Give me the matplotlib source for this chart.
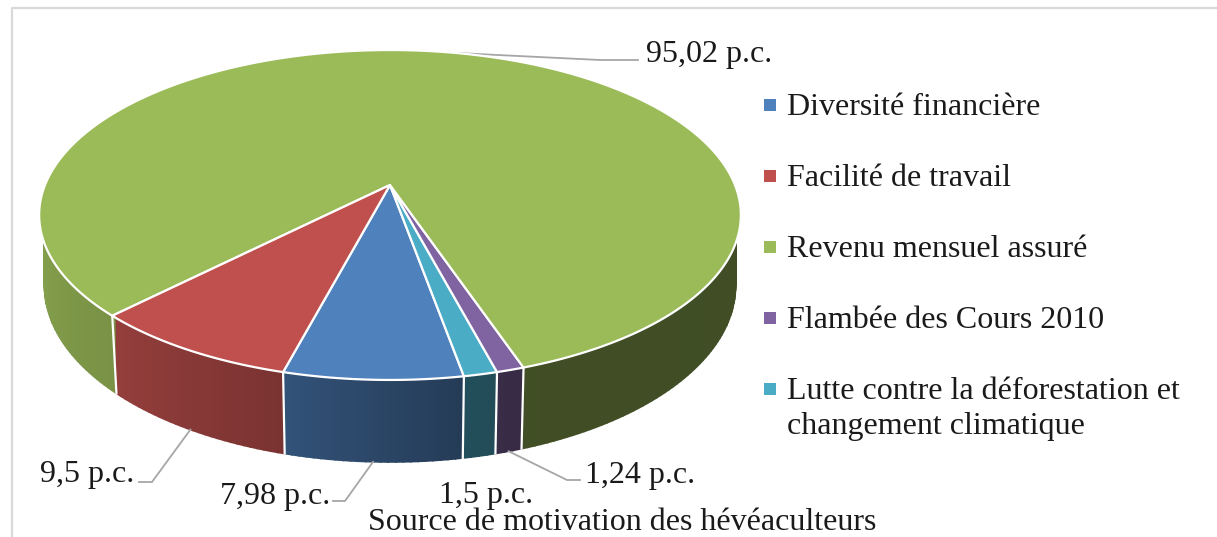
import numpy as np
import matplotlib
matplotlib.use('Agg')
import matplotlib.pyplot as plt

plt.rcParams['font.family'] = ['Liberation Serif', 'DejaVu Serif']

# legend order
categories = ['Diversité financière', 'Facilité de travail', 'Revenu mensuel assuré',
              'Flambée des Cours 2010', 'Lutte contre la déforestation et\nchangement climatique']
values = [7.98, 9.5, 95.02, 1.24, 1.5]
value_labels = ['7,98 p.c.', '9,5 p.c.', '95,02 p.c.', '1,24 p.c.', '1,5 p.c.']
colors = ['#4f81bd', '#bf504d', '#9bbb59', '#8064a2', '#4bacc6']

# slices go round in this order, starting at the blue one
draw_order = [0, 4, 3, 2, 1]
start_angle = -14.8  # deg from the front of the pie, positive to the right

# perspective of the pie, in pixels
cx, cy = 390, 185
k = 0.1818
rx, ry = 345, 159.5

# shade of the side wall against angle from the front
shade_angle = [-180, -90, -45, -15, 10, 20, 90, 180]
shade_value = [0.42, 0.88, 0.78, 0.64, 0.46, 0.42, 0.41, 0.42]


def top(t):
    u, v = np.sin(t), -np.cos(t)
    w = 1 + k * v
    return rx * u / w, ry * v / w


def to_px(X, Y, bottom=False):
    if bottom:
        X = 0.985 * X
        Y = 1.07 * Y - 68.4
    return cx + X, cy - Y


def rim(t, bottom=False):
    return to_px(*top(t), bottom=bottom)


fig = plt.figure(figsize=(12.17, 5.37), dpi=100)
ax = fig.add_axes([0, 0, 1, 1])
ax.set_xlim(0, 1217)
ax.set_ylim(537, 0)
ax.axis('off')

# frame of the chart, only top and left show
ax.plot([12, 12, 1217], [537, 8, 8], color='#d9d9d9', lw=1.6, zorder=1)

# slice limits
total = sum(values)
spans = {}
a = start_angle
for i in draw_order:
    d = values[i] / total * 360
    spans[i] = (a, a + d)
    a += d

# side wall, drawn in thin strips
strips = []
for i in draw_order:
    a0, a1 = spans[i]
    n = max(3, int((a1 - a0) / 1.0))
    edges = np.linspace(a0, a1, n + 1)
    for e0, e1 in zip(edges[:-1], edges[1:]):
        strips.append((i, e0, e1))
strips.sort(key=lambda s: np.cos(np.radians((s[1] + s[2]) / 2)))
for i, e0, e1 in strips:
    mid = ((e0 + e1) / 2 + 180) % 360 - 180
    if np.cos(np.radians(mid)) < -0.1:
        continue
    shade = np.interp(mid, shade_angle, shade_value)
    col = np.array(matplotlib.colors.to_rgb(colors[i])) * shade
    t = np.radians([e0, e1])
    x0, y0 = rim(t)
    # pull the top of the strip under the disc so no dark hairline shows
    x0 = cx + (x0 - cx) * 0.985
    y0 = cy + (y0 - cy) * 0.985
    x1, y1 = rim(t, bottom=True)
    ax.fill([x0[0], x0[1], x1[1], x1[0]], [y0[0], y0[1], y1[1], y1[0]],
            color=col, lw=1.2, zorder=2)

# white lines between the side pieces
for i in draw_order:
    e = spans[i][0]
    if np.cos(np.radians(e)) > 0:
        t = np.radians(e)
        x0, y0 = rim(t)
        x1, y1 = rim(t, bottom=True)
        ax.plot([x0, x1], [y0, y1], color='white', lw=1.6, zorder=3)

# top of the pie
for i in draw_order:
    a0, a1 = spans[i]
    t = np.radians(np.linspace(a0, a1, 300))
    x, y = rim(t)
    ax.fill(np.r_[cx, x], np.r_[cy, y], facecolor=colors[i], edgecolor='white',
            lw=1.6, joinstyle='round', zorder=4)

# data labels and leader lines
label_pos = {0: (220, 504), 1: (40, 482), 2: (646, 62), 3: (585, 483), 4: (439, 503)}
elbows = {0: [(345, 501), (333, 501)],
          1: [(152, 482), (139, 482)],
          2: [(600, 60), (638, 60)],
          3: [(567, 480), (580, 480)]}
for i in range(len(values)):
    a0, a1 = spans[i]
    if i in elbows:
        t = np.radians((a0 + a1) / 2)
        x0, y0 = rim(t, bottom=(i != 2))
        xs = [x0] + [p[0] for p in elbows[i]]
        ys = [y0] + [p[1] for p in elbows[i]]
        ax.plot(xs, ys, color='#a6a6a6', lw=1.3, zorder=3)
    ax.text(label_pos[i][0], label_pos[i][1], value_labels[i], fontsize=23,
            color='#1a1a1a', ha='left', va='baseline', zorder=6)

# legend
legend_y = [105, 176, 247, 318, 389]
for name, col, y in zip(categories, colors, legend_y):
    ax.scatter([770], [y], marker='s', s=72, color=col, lw=0, zorder=6)
    ax.text(787, y - 12, name, fontsize=23, color='#1a1a1a', ha='left', va='top',
            linespacing=1.28, zorder=6)

ax.text(622, 530, 'Source de motivation des hévéaculteurs', fontsize=23,
        color='#1a1a1a', ha='center', va='baseline', zorder=6)

fig.savefig('out.png', dpi=100, facecolor='white')
